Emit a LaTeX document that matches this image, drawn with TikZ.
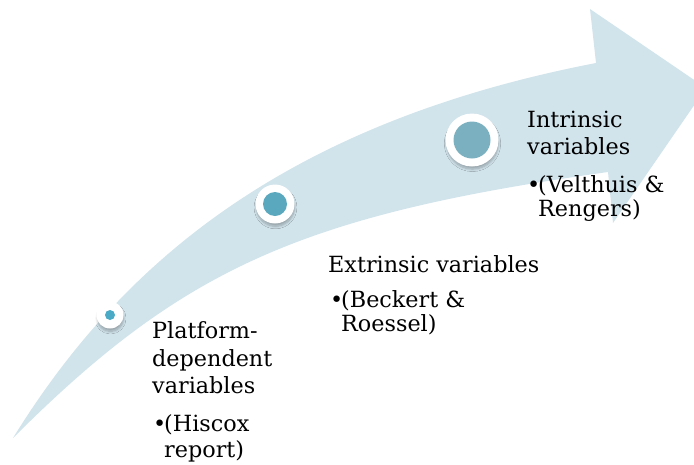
\documentclass[tikz,border=0pt]{standalone}
\usepackage{fontspec}
\setmainfont{DejaVu Serif}
\usetikzlibrary{shadows.blur}
\definecolor{arrowfill}{RGB}{209,227,235}
\definecolor{dotA}{RGB}{75,170,198}
\definecolor{dotB}{RGB}{90,168,190}
\definecolor{dotC}{RGB}{122,176,192}
\tikzset{
  ring/.style={circle, fill=white, inner sep=0pt,
    blur shadow={shadow xshift=0.5pt, shadow yshift=-3.5pt, shadow scale=0.97, shadow blur steps=8, shadow blur radius=2.5pt, shadow opacity=28}},
  dot/.style={circle, inner sep=0pt},
  lbl/.style={anchor=base west, inner sep=0pt, font=\fontsize{22.3}{27}\selectfont, text=black},
}
\begin{document}
\begin{tikzpicture}[x=1pt,y=-1pt]
\useasboundingbox (0,0) rectangle (694,464);
\clip (0,0) rectangle (694,464);
\fill[arrowfill] (13,438) .. controls (118,268) and (280,124) .. (596,63)
  -- (590,9) -- (706,88) -- (613,223) -- (608,172)
  .. controls (302,215) and (183,268) .. (13,438) -- cycle;
% circles
\node[ring, minimum size=27pt] (r1) at (110,315) {};
\node[dot, fill=dotA, minimum size=10pt] (d1) at (r1.center) {};
\node[ring, minimum size=39pt] (r2) at (275,204) {};
\node[dot, fill=dotB, minimum size=24pt] (d2) at (r2.center) {};
\node[ring, minimum size=53pt] (r3) at (472,140) {};
\node[dot, fill=dotC, minimum size=37pt] (d3) at (r3.center) {};
% texts block 1
\node[lbl] (p1) at (152,338) {Platform-};
\node[lbl] (p2) at (152,366) {dependent};
\node[lbl] (p3) at (152,393) {variables};
\node[lbl] (p4) at (153,431) {•};
\node[lbl] (p5) at (164,431) {(Hiscox};
\node[lbl] (p6) at (164,457) {report)};
% texts block 2
\node[lbl] (e1) at (328,272) {Extrinsic variables};
\node[lbl] (e2) at (330,307) {•};
\node[lbl] (e3) at (341,307) {(Beckert \&};
\node[lbl] (e4) at (341,331) {Roessel)};
% texts block 3
\node[lbl] (i1) at (527,127) {Intrinsic};
\node[lbl] (i2) at (527,154) {variables};
\node[lbl] (i3) at (527,192) {•};
\node[lbl] (i4) at (538,192) {(Velthuis \&};
\node[lbl] (i5) at (538,216) {Rengers)};
\end{tikzpicture}
\end{document}
